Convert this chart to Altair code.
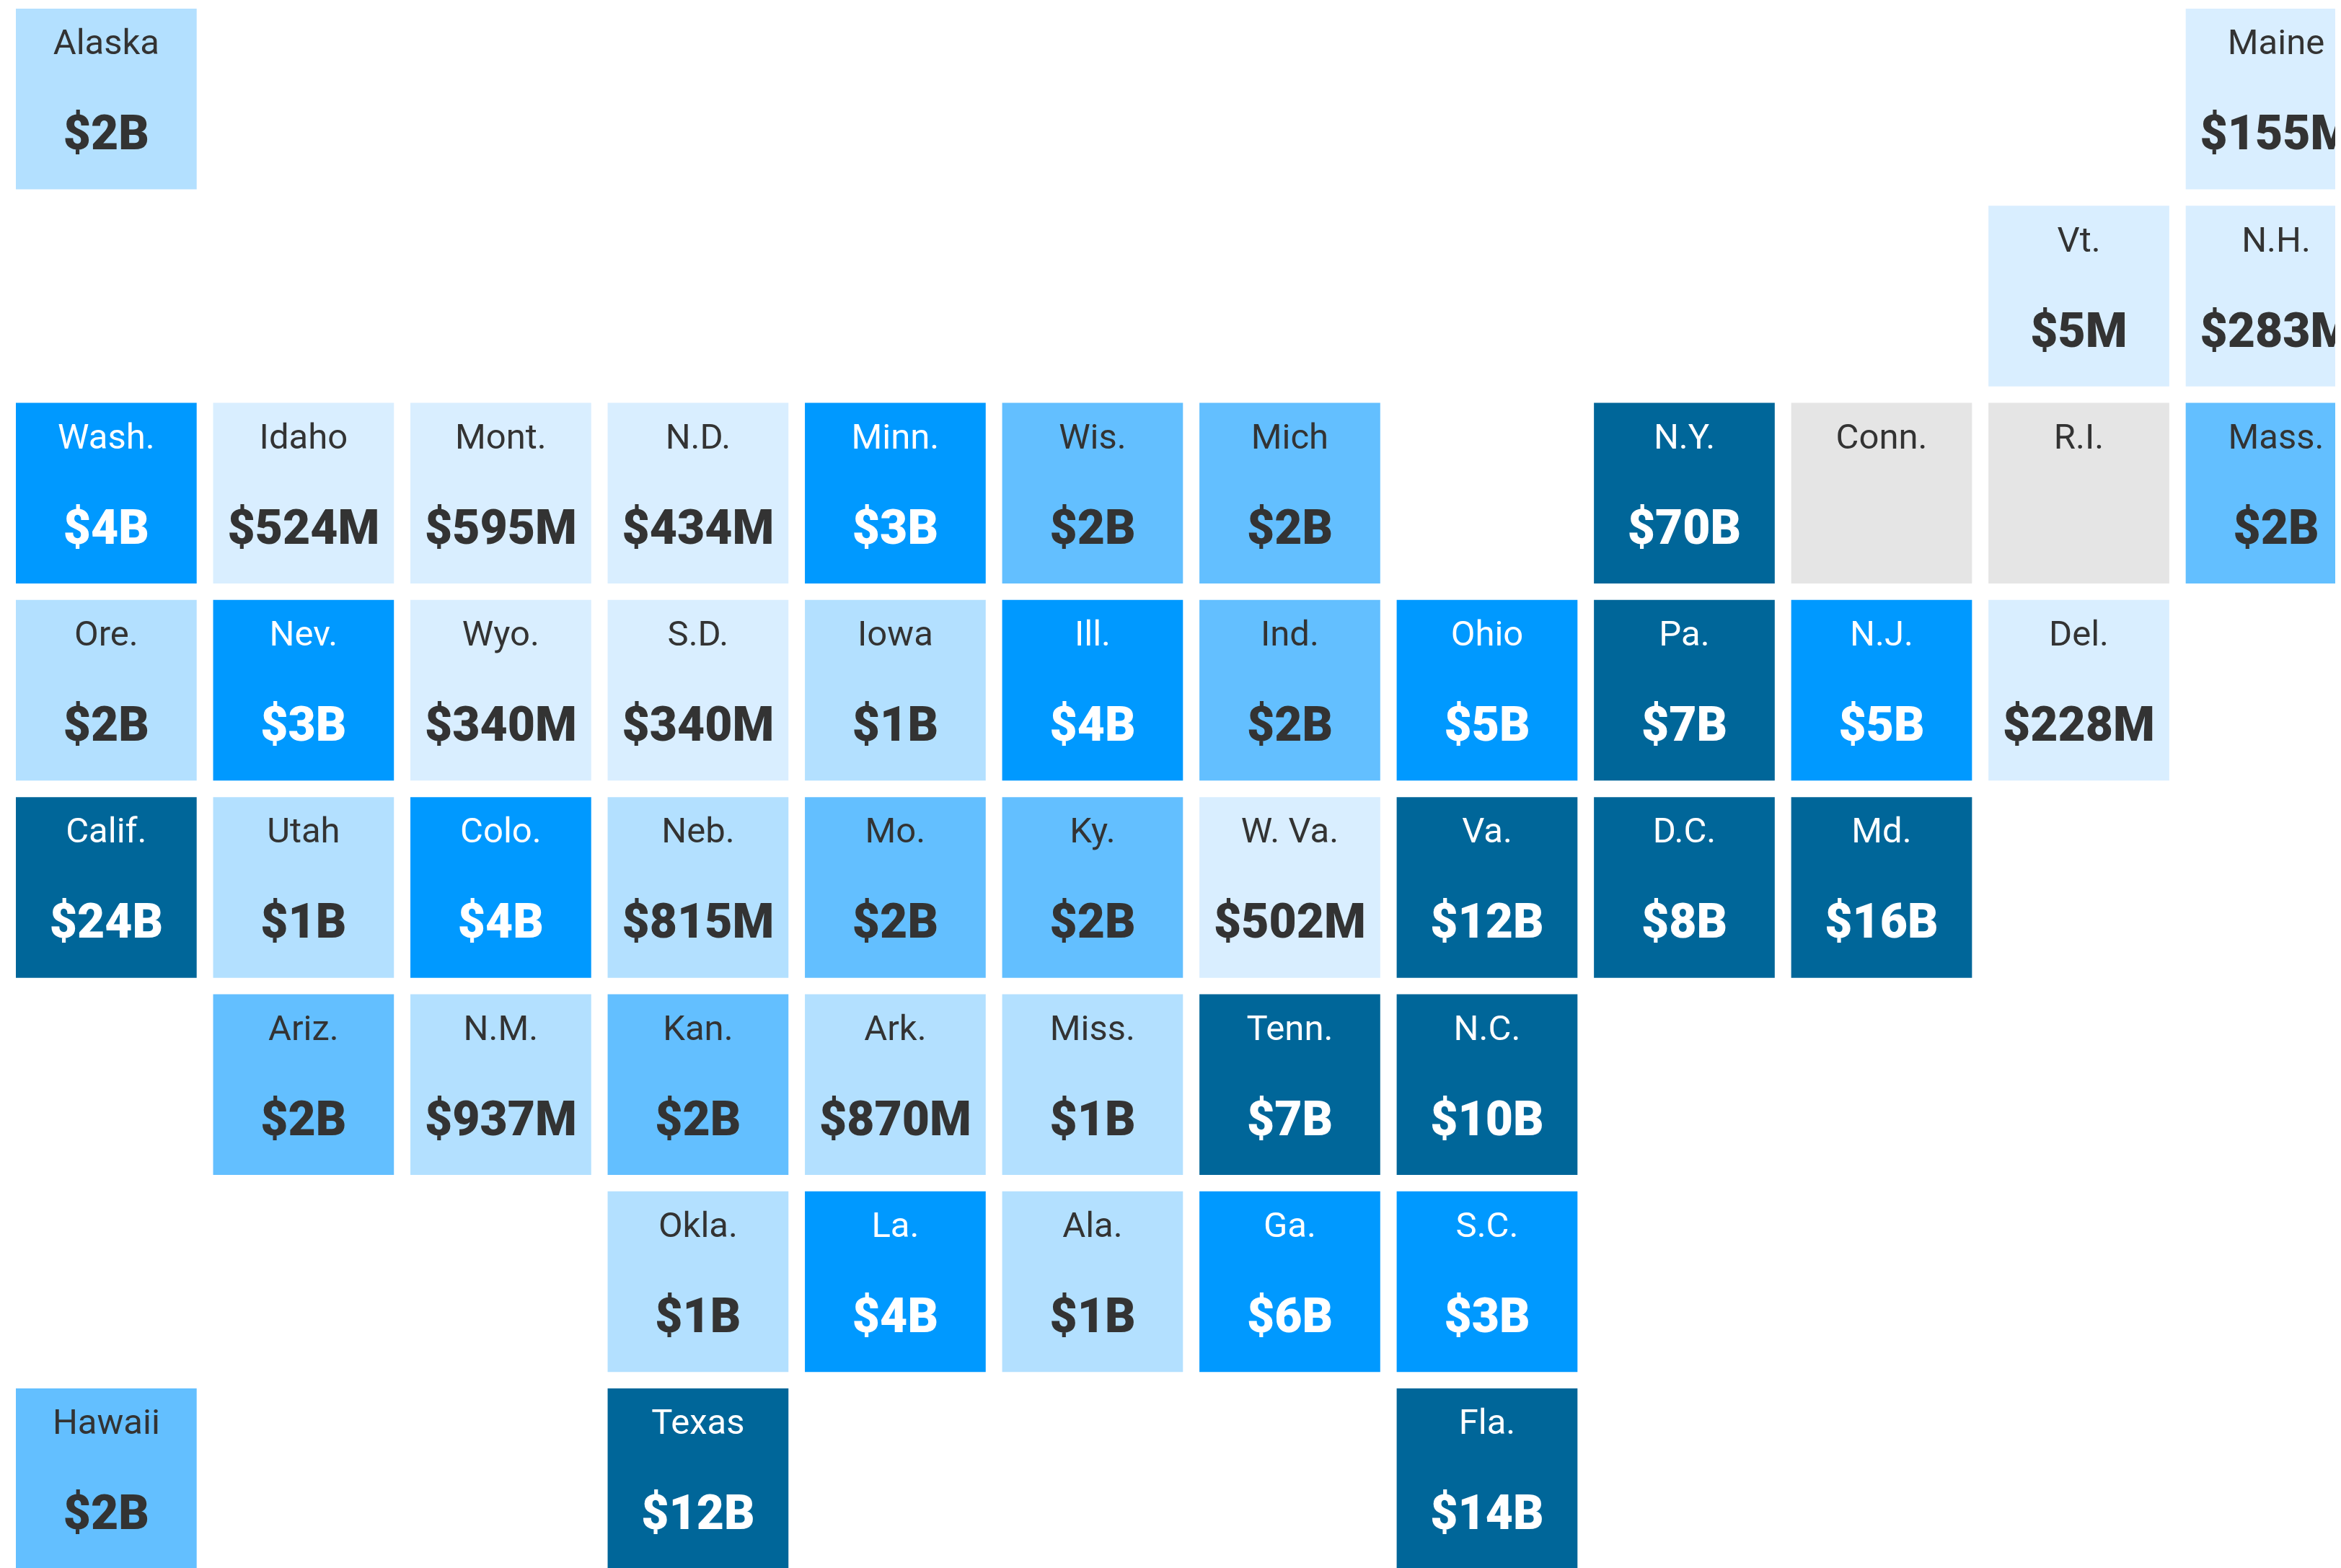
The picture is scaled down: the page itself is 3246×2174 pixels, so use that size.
import altair as alt
import pandas as pd

names = ["Alaska","Maine","Vt.","N.H.",
 "Wash.","Idaho","Mont.","N.D.","Minn.","Wis.","Mich","N.Y.","Conn.","R.I.","Mass.",
 "Ore.","Nev.","Wyo.","S.D.","Iowa","Ill.","Ind.","Ohio","Pa.","N.J.","Del.",
 "Calif.","Utah","Colo.","Neb.","Mo.","Ky.","W. Va.","Va.","D.C.","Md.",
 "Ariz.","N.M.","Kan.","Ark.","Miss.","Tenn.","N.C.",
 "Okla.","La.","Ala.","Ga.","S.C.",
 "Hawaii","Texas","Fla."]
cols = [0,11,10,11,
 0,1,2,3,4,5,6,8,9,10,11,
 0,1,2,3,4,5,6,7,8,9,10,
 0,1,2,3,4,5,6,7,8,9,
 1,2,3,4,5,6,7,
 3,4,5,6,7,
 0,3,7]
rows = [0,0,1,1,
 2,2,2,2,2,2,2,2,2,2,2,
 3,3,3,3,3,3,3,3,3,3,3,
 4,4,4,4,4,4,4,4,4,4,
 5,5,5,5,5,5,5,
 6,6,6,6,6,
 7,7,7]
amounts = ["$2B","$155M","$5M","$283M",
 "$4B","$524M","$595M","$434M","$3B","$2B","$2B","$70B","","","$2B",
 "$2B","$3B","$340M","$340M","$1B","$4B","$2B","$5B","$7B","$5B","$228M",
 "$24B","$1B","$4B","$815M","$2B","$2B","$502M","$12B","$8B","$16B",
 "$2B","$937M","$2B","$870M","$1B","$7B","$10B",
 "$1B","$4B","$1B","$6B","$3B",
 "$2B","$12B","$14B"]
tiers = [2,1,1,1,
 4,1,1,1,4,3,3,5,0,0,3,
 2,4,1,1,2,4,3,4,5,4,1,
 5,2,4,2,3,3,1,5,5,5,
 3,2,3,2,2,5,5,
 2,4,2,4,4,
 3,5,5]
tier_domain = [0,1,2,3,4,5]
tier_fill = ["#e5e5e5","#d9eeff","#b3e0ff","#63bfff","#0099ff","#006699"]
tier_text = ["#333333","#333333","#333333","#333333","#ffffff","#ffffff"]
TILE = 0.9166

df = pd.DataFrame(dict(name=names,col=cols,row=rows,amount=amounts,tier=tiers))

xs = alt.Scale(domain=[0,11.758], nice=False, zero=False)
ys = alt.Scale(domain=[7.911,0], nice=False, zero=False)
txt = alt.Color("tier:O", legend=None, scale=alt.Scale(domain=tier_domain, range=tier_text))

base = alt.Chart(df).transform_calculate(
    x2=f"datum.col+{TILE}", y2=f"datum.row+{TILE}",
    cx=f"datum.col+{TILE/2}", cy=f"datum.row+{TILE/2}")
tiles = base.mark_rect(clip=True).encode(
    x=alt.X("col:Q", axis=None, scale=xs), x2="x2:Q",
    y=alt.Y("row:Q", axis=None, scale=ys), y2="y2:Q",
    fill=alt.Fill("tier:O", legend=None, scale=alt.Scale(domain=tier_domain, range=tier_fill)))
cx = alt.X("cx:Q", axis=None, scale=xs)
cy = alt.Y("cy:Q", axis=None, scale=ys)
labels = base.mark_text(font="Roboto", fontSize=49, dy=-77, baseline="middle", align="center", clip=True).encode(
    x=cx, y=cy, text="name:N", color=txt)
values = base.mark_text(font="Roboto", fontWeight=900, fontSize=66, dy=50, baseline="middle", align="center", clip=True).encode(
    x=cx, y=cy, text="amount:N", color=txt)

chart = (alt.layer(tiles, labels, values)
    .properties(width=3216, height=2162, padding={"left":14,"top":4,"right":0,"bottom":0}, autosize="none", background="white")
    .configure_view(stroke=None))
chart.save("out.html", embed_options={"renderer": "svg", "actions": False})
